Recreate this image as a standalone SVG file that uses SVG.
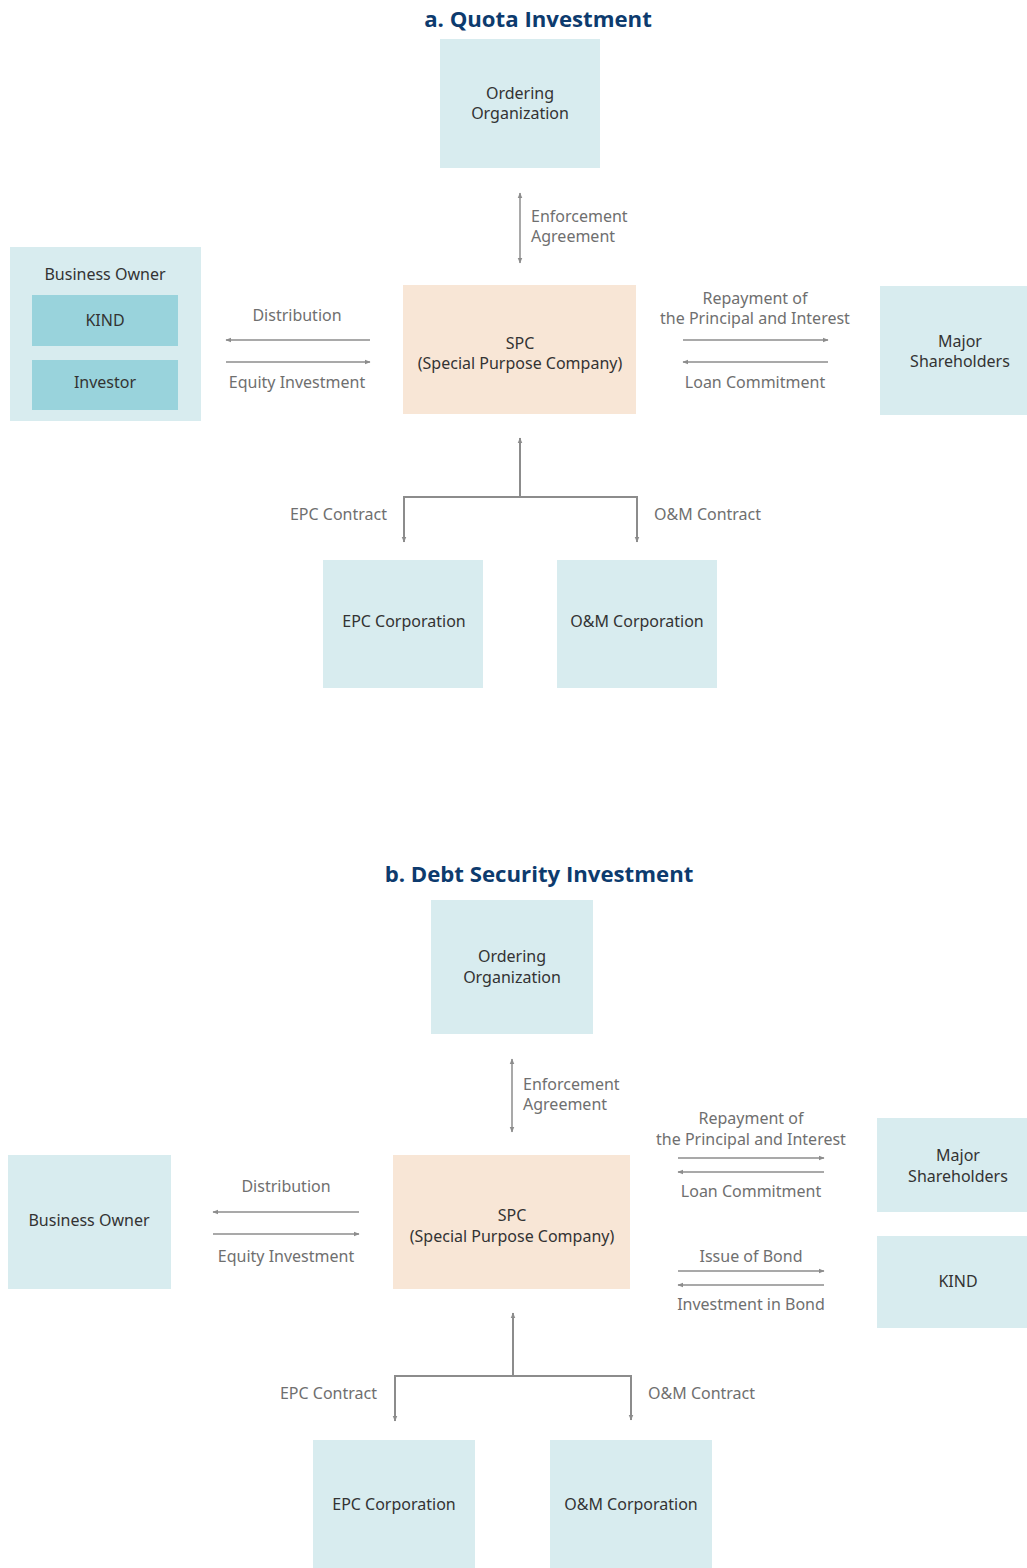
<svg xmlns="http://www.w3.org/2000/svg" width="1027" height="1568" viewBox="0 0 1027 1568">
<defs>
<marker id="ah" viewBox="0 0 10 10" refX="9" refY="5" markerWidth="6" markerHeight="6" markerUnits="userSpaceOnUse" orient="auto-start-reverse">
<path d="M0,1 L10,5 L0,9 z" fill="#8c8c8c"/>
</marker>
<style>
.box{fill:#d8ecef}
.inner{fill:#99d3dc}
.spc{fill:#f8e6d6}
.nt{font-family:"Noto Sans","Liberation Sans",sans-serif;font-size:16px;fill:#333;text-anchor:middle}
.lb{font-family:"Noto Sans","Liberation Sans",sans-serif;font-size:16px;fill:#6f6f6f}
.mid{text-anchor:middle}
.end{text-anchor:end}
.ttl{font-family:"Open Sans","Noto Sans","Liberation Sans",sans-serif;font-size:22.2px;font-weight:bold;fill:#0d3b6e;text-anchor:middle}
.ln{stroke:#8c8c8c;stroke-width:1.5;fill:none}
.tr{stroke:#8c8c8c;stroke-width:2;fill:none}
</style>
</defs>
<rect width="1027" height="1568" fill="#fff"/>

<text class="ttl" x="538" y="27">a. Quota Investment</text>
<text class="ttl" x="539" y="882">b. Debt Security Investment</text>

<g id="connectors">
<line class="ln" x1="520" y1="193" x2="520" y2="263" marker-start="url(#ah)" marker-end="url(#ah)"/>
<line class="ln" x1="370" y1="340" x2="226" y2="340" marker-end="url(#ah)"/>
<line class="ln" x1="226" y1="362" x2="370" y2="362" marker-end="url(#ah)"/>
<line class="ln" x1="683" y1="340" x2="828" y2="340" marker-end="url(#ah)"/>
<line class="ln" x1="828" y1="362" x2="683" y2="362" marker-end="url(#ah)"/>
<path class="tr" d="M520,497 L520,438" marker-end="url(#ah)"/>
<path class="tr" d="M404,542 L404,497 L637,497 L637,542" marker-start="url(#ah)" marker-end="url(#ah)"/>

<line class="ln" x1="512" y1="1059" x2="512" y2="1132" marker-start="url(#ah)" marker-end="url(#ah)"/>
<line class="ln" x1="359" y1="1212" x2="213" y2="1212" marker-end="url(#ah)"/>
<line class="ln" x1="213" y1="1234" x2="359" y2="1234" marker-end="url(#ah)"/>
<line class="ln" x1="678" y1="1158" x2="824" y2="1158" marker-end="url(#ah)"/>
<line class="ln" x1="824" y1="1172" x2="678" y2="1172" marker-end="url(#ah)"/>
<line class="ln" x1="678" y1="1271" x2="824" y2="1271" marker-end="url(#ah)"/>
<line class="ln" x1="824" y1="1285" x2="678" y2="1285" marker-end="url(#ah)"/>
<path class="tr" d="M513,1376 L513,1313" marker-end="url(#ah)"/>
<path class="tr" d="M395,1421 L395,1376 L631,1376 L631,1420" marker-start="url(#ah)" marker-end="url(#ah)"/>

<text class="lb" x="531" y="222">Enforcement</text>
<text class="lb" x="531" y="242">Agreement</text>
<text class="lb mid" x="297" y="321">Distribution</text>
<text class="lb mid" x="297" y="388">Equity Investment</text>
<text class="lb mid" x="755" y="304">Repayment of</text>
<text class="lb mid" x="755" y="324">the Principal and Interest</text>
<text class="lb mid" x="755" y="388">Loan Commitment</text>
<text class="lb end" x="387" y="520">EPC Contract</text>
<text class="lb" x="654" y="520">O&amp;M Contract</text>

<text class="lb" x="523" y="1090">Enforcement</text>
<text class="lb" x="523" y="1110">Agreement</text>
<text class="lb mid" x="286" y="1192">Distribution</text>
<text class="lb mid" x="286" y="1262">Equity Investment</text>
<text class="lb mid" x="751" y="1124">Repayment of</text>
<text class="lb mid" x="751" y="1145">the Principal and Interest</text>
<text class="lb mid" x="751" y="1197">Loan Commitment</text>
<text class="lb mid" x="751" y="1262">Issue of Bond</text>
<text class="lb mid" x="751" y="1310">Investment in Bond</text>
<text class="lb end" x="377" y="1399">EPC Contract</text>
<text class="lb" x="648" y="1399">O&amp;M Contract</text>
</g>

<g id="a-ordering">
<rect class="box" x="440" y="39" width="160" height="129"/>
<text class="nt" x="520" y="99">Ordering</text>
<text class="nt" x="520" y="119">Organization</text>
</g>
<g id="a-business-owner">
<rect class="box" x="10" y="247" width="191" height="174"/>
<text class="nt" x="105" y="280">Business Owner</text>
</g>
<g id="a-kind">
<rect class="inner" x="32" y="295" width="146" height="51"/>
<text class="nt" x="105" y="326">KIND</text>
</g>
<g id="a-investor">
<rect class="inner" x="32" y="360" width="146" height="50"/>
<text class="nt" x="105" y="388">Investor</text>
</g>
<g id="a-spc">
<rect class="spc" x="403" y="285" width="233" height="129"/>
<text class="nt" x="520" y="349">SPC</text>
<text class="nt" x="520" y="369">(Special Purpose Company)</text>
</g>
<g id="a-major">
<rect class="box" x="880" y="286" width="147" height="129"/>
<text class="nt" x="960" y="347">Major</text>
<text class="nt" x="960" y="367">Shareholders</text>
</g>
<g id="a-epc">
<rect class="box" x="323" y="560" width="160" height="128"/>
<text class="nt" x="404" y="627">EPC Corporation</text>
</g>
<g id="a-om">
<rect class="box" x="557" y="560" width="160" height="128"/>
<text class="nt" x="637" y="627">O&amp;M Corporation</text>
</g>

<g id="b-ordering">
<rect class="box" x="431" y="900" width="162" height="134"/>
<text class="nt" x="512" y="962">Ordering</text>
<text class="nt" x="512" y="983">Organization</text>
</g>
<g id="b-business-owner">
<rect class="box" x="8" y="1155" width="163" height="134"/>
<text class="nt" x="89" y="1226">Business Owner</text>
</g>
<g id="b-spc">
<rect class="spc" x="393" y="1155" width="237" height="134"/>
<text class="nt" x="512" y="1221">SPC</text>
<text class="nt" x="512" y="1242">(Special Purpose Company)</text>
</g>
<g id="b-major">
<rect class="box" x="877" y="1118" width="150" height="94"/>
<text class="nt" x="958" y="1161">Major</text>
<text class="nt" x="958" y="1182">Shareholders</text>
</g>
<g id="b-kind">
<rect class="box" x="877" y="1236" width="150" height="92"/>
<text class="nt" x="958" y="1287">KIND</text>
</g>
<g id="b-epc">
<rect class="box" x="313" y="1440" width="162" height="128"/>
<text class="nt" x="394" y="1510">EPC Corporation</text>
</g>
<g id="b-om">
<rect class="box" x="550" y="1440" width="162" height="128"/>
<text class="nt" x="631" y="1510">O&amp;M Corporation</text>
</g>
</svg>
